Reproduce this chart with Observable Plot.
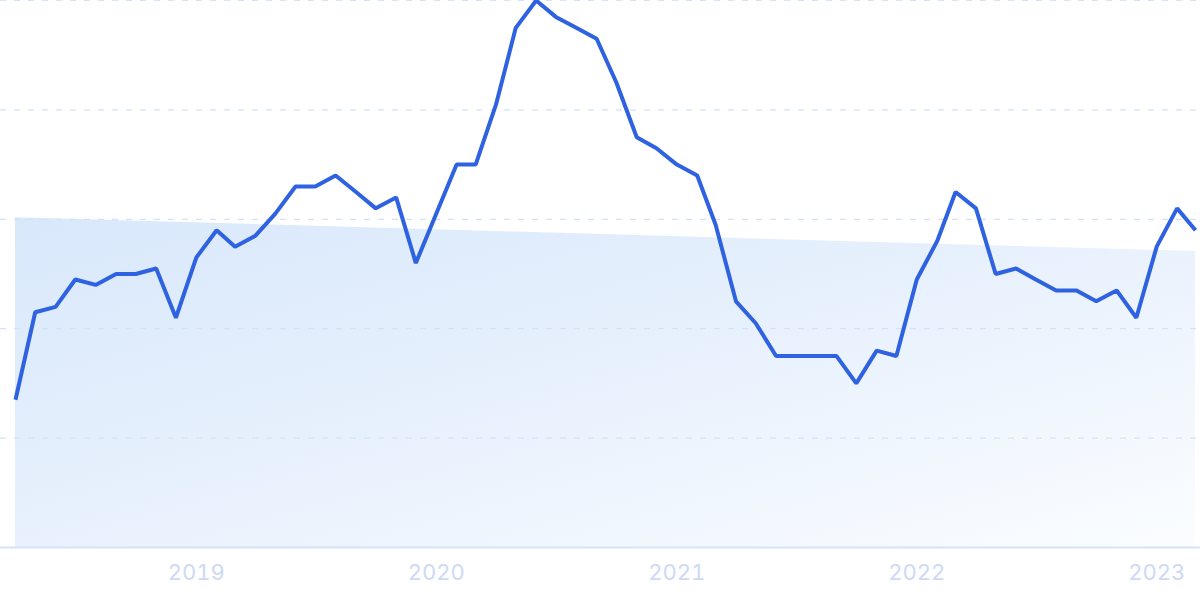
<!DOCTYPE html>
<html>
<head>
<meta charset="utf-8">
<script src="https://cdn.jsdelivr.net/npm/d3@7"></script>
<script src="https://cdn.jsdelivr.net/npm/@observablehq/plot@0.6"></script>
<style>
  html, body { margin: 0; padding: 0; background: #ffffff; }
  #chart svg { display: block; }
</style>
</head>
<body>
<div id="chart"></div>
<script>
// ---- data ----
const startMonth = "2018-04-01";
const values = [27, 43, 44, 49, 48, 50, 50, 51, 42, 53, 58, 55, 57, 61, 66, 66, 68, 65, 62, 64,
                52, 61, 70, 70, 81, 95, 100, 97, 95, 93, 85, 75, 73, 70, 68, 59, 45, 41, 35, 35,
                35, 35, 30, 36, 35, 49, 56, 65, 62, 50, 51, 49, 47, 47, 45, 47, 42, 55, 62, 58];
const trendValues = [60.3, 54.1]; // trend at first and last month
const tickLabels = ["2019", "2020", "2021", "2022", "2023"];
const gridValues = [20, 40, 60, 80, 100];

// ---- build table ----
const start = new Date(startMonth + "T00:00:00Z");
const series = values.map((v, i) => ({date: d3.utcMonth.offset(start, i), value: v}));
const trend = [
  {date: series[0].date, value: trendValues[0]},
  {date: series[series.length - 1].date, value: trendValues[1]}
];
const ticks = tickLabels.map(y => new Date(y + "-01-01T00:00:00Z"));

const defs = () => {
  const ns = "http://www.w3.org/2000/svg";
  const d = document.createElementNS(ns, "defs");
  d.innerHTML = `<linearGradient id="trendFill" x1="0" y1="0" x2="1" y2="1">
      <stop offset="0" stop-color="#d8e8fb"/>
      <stop offset="0.5" stop-color="#e8f1fd"/>
      <stop offset="1" stop-color="#fbfdff"/>
    </linearGradient>`;
  return d;
};

const chart = Plot.plot({
  width: 1200,
  height: 599,
  marginTop: 0,
  marginBottom: 52,
  marginLeft: 15,
  marginRight: 5,
  style: {fontFamily: "Inter, sans-serif", background: "#ffffff", overflow: "hidden"},
  x: {type: "utc", domain: [series[0].date, series[series.length - 1].date]},
  y: {domain: [0, 100], axis: null},
  marks: [
    defs,
    Plot.areaY(trend, {x: "date", y: "value", fill: "url(#trendFill)", curve: "linear"}),
    Plot.ruleY(gridValues, {stroke: "#d3e2fa", strokeWidth: 1.2, strokeDasharray: "6,8", insetLeft: -15, insetRight: -5}),
    Plot.ruleY([0], {stroke: "#d3e4fa", strokeWidth: 1.8, insetLeft: -15, insetRight: -5}),
    Plot.lineY(series, {x: "date", y: "value", stroke: "#2e62e1", strokeWidth: 4, strokeLinejoin: "miter", strokeLinecap: "butt"}),
    Plot.axisX(ticks, {tickSize: 0, tickPadding: 17, tickFormat: (d, i) => tickLabels[i], fontSize: 22, fill: "#cdd9f5", stroke: null, label: null})
  ]
});
document.getElementById("chart").appendChild(chart);
</script>
</body>
</html>
